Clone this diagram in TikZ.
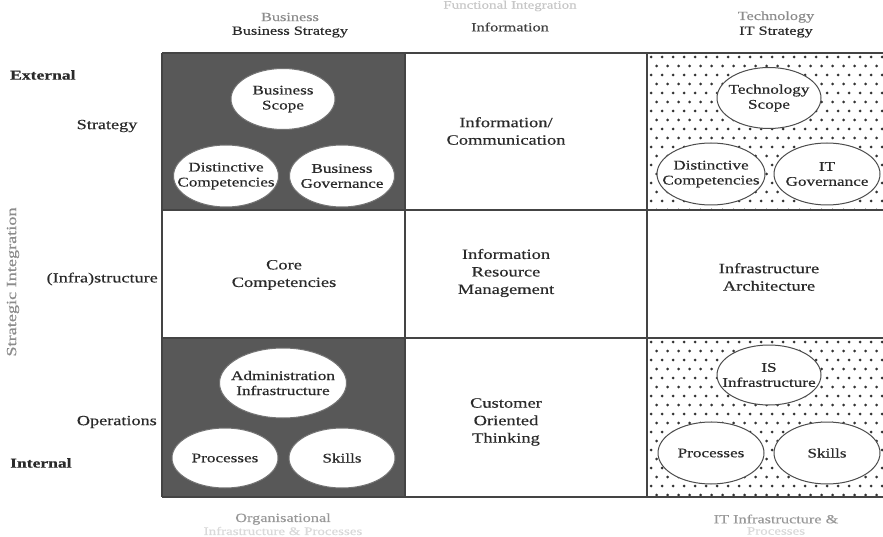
\documentclass[tikz,border=0pt]{standalone}
\usepackage{fontspec}
\setmainfont{Liberation Serif}[FakeStretch=1.3, FakeBold=0.45]
\usetikzlibrary{shapes.geometric}
\definecolor{cellgray}{HTML}{585858}
\definecolor{gridline}{HTML}{444444}
\definecolor{inktext}{HTML}{2A2A2A}
\begin{document}
\begin{tikzpicture}[x=1pt,y=-1pt,
  every node/.style={inner sep=0pt, align=center, text=inktext},
  cellfont/.style={font=\fontsize{14.2}{17.5}\selectfont},
  sidefont/.style={font=\fontsize{14}{16}\selectfont},
  headfont/.style={font=\fontsize{12.5}{15}\selectfont},
  ovaltext/.style={inner sep=0pt, align=center, text=inktext,
    font=\fontsize{13.2}{15}\selectfont},
  oval/.style 2 args={ellipse, draw=black!55, line width=1pt, fill=white,
    minimum width=#1, minimum height=#2},
  gridrule/.style={draw=gridline, line width=2pt},
  dotfill/.style={fill=black!80}]
\useasboundingbox (0,0) rectangle (883,537);
\clip (0,0) rectangle (883,537);

% shaded business cells
\fill[cellgray] (162,53) rectangle (405,210);
\fill[cellgray] (162,338) rectangle (405,497);

% dotted technology cells
\begin{scope}
  \clip (647,53) rectangle (890,210);
  \foreach \yy in {57,75,...,210} \foreach \xx in {651,662,...,891}
    \fill[dotfill] (\xx,\yy) circle (1.5);
  \foreach \yy in {66,84,...,210} \foreach \xx in {656.5,667.5,...,891}
    \fill[dotfill] (\xx,\yy) circle (1.5);
\end{scope}
\begin{scope}
  \clip (647,338) rectangle (890,497);
  \foreach \yy in {342,360,...,497} \foreach \xx in {651,662,...,891}
    \fill[dotfill] (\xx,\yy) circle (1.5);
  \foreach \yy in {351,369,...,497} \foreach \xx in {656.5,667.5,...,891}
    \fill[dotfill] (\xx,\yy) circle (1.5);
\end{scope}

% grid
\draw[gridrule] (162,53) -- (890,53);
\draw[gridrule] (162,210) -- (890,210);
\draw[gridrule] (162,338) -- (890,338);
\draw[gridrule] (162,497) -- (890,497);
\draw[gridrule] (162,53) -- (162,497);
\draw[gridrule] (405,53) -- (405,497);
\draw[gridrule] (647,53) -- (647,497);

% column headings
\node[text=black!22, font=\fontsize{11.5}{13}\selectfont] (funcint) at (510,6) {Functional Integration};
\node[headfont, text=black!45] (hbus) at (290,17) {Business};
\node[headfont] (hbusstr) at (290,32) {Business Strategy};
\node[headfont, text=black!75] (hinfo) at (510,27) {Information};
\node[headfont, text=black!45] (htech) at (776,17) {Technology};
\node[headfont] (hitstr) at (776,32) {IT Strategy};

% bottom headings
\node[headfont, text=black!40] (borg) at (283,519) {Organisational};
\node[text=black!15, font=\fontsize{11.5}{13}\selectfont] (borg2) at (283,531) {Infrastructure \& Processes};
\node[headfont, text=black!40] (bit) at (776,519) {IT Infrastructure \&};
\node[text=black!15, font=\fontsize{11.5}{13}\selectfont] (bit2) at (776,531) {Processes};

% row labels
\node[anchor=west, font=\fontsize{13.5}{16}\selectfont\bfseries] (ext) at (10,75) {External};
\node[sidefont] (rstrat) at (107,126) {Strategy};
\node[sidefont, anchor=east] (rinfra) at (158,279) {(Infra)structure};
\node[sidefont, anchor=east] (rops) at (157,422) {Operations};
\node[anchor=west, font=\fontsize{13.5}{16}\selectfont\bfseries] (int) at (10,463) {Internal};
\node[sidefont, text=black!45] at (13,282) [rotate=90] (stratint) {Strategic Integration};

% business strategy cell
\node[oval={104}{61}] (bscope) at (283,99) {};
\node[oval={105}{62}] (bdist) at (226,176) {};
\node[oval={105}{62}] (bgov) at (342,176) {};
\node[ovaltext] (bscopet) at (bscope) {Business\\Scope};
\node[ovaltext] (bdistt) at (bdist) {Distinctive\\Competencies};
\node[ovaltext] (bgovt) at (bgov) {Business\\Governance};

% organisational cell
\node[oval={127}{70}] (badmin) at (283,383) {};
\node[oval={106}{60}] (bproc) at (225,458) {};
\node[oval={106}{60}] (bskill) at (342,458) {};
\node[ovaltext] (badmint) at (badmin) {Administration\\Infrastructure};
\node[ovaltext] (bproct) at (bproc) {Processes};
\node[ovaltext] (bskillt) at (bskill) {Skills};

% IT strategy cell
\node[oval={104}{61}, draw=black!70] (tscope) at (769,98) {};
\node[oval={108}{62}, draw=black!70] (tdist) at (711,174) {};
\node[oval={106}{62}, draw=black!70] (tgov) at (827,174) {};
\node[ovaltext] (tscopet) at (tscope) {Technology\\Scope};
\node[ovaltext] (tdistt) at (tdist) {Distinctive\\Competencies};
\node[ovaltext] (tgovt) at (tgov) {IT\\Governance};

% IT infrastructure cell
\node[oval={104}{60}, draw=black!70] (tis) at (769,375) {};
\node[oval={106}{62}, draw=black!70] (tproc) at (711,453) {};
\node[oval={106}{62}, draw=black!70] (tskill) at (827,453) {};
\node[ovaltext] (tist) at (tis) {IS\\Infrastructure};
\node[ovaltext] (tproct) at (tproc) {Processes};
\node[ovaltext] (tskillt) at (tskill) {Skills};

% plain cells
\node[cellfont] (infocomm) at (506,131) {Information/\\Communication};
\node[cellfont] (corecomp) at (284,275) {Core\\Competencies};
\node[cellfont] (irm) at (506,273) {Information\\Resource\\Management};
\node[cellfont] (infarch) at (769,277) {Infrastructure\\Architecture};
\node[cellfont] (cot) at (506,422) {Customer\\Oriented\\Thinking};
\end{tikzpicture}
\end{document}
